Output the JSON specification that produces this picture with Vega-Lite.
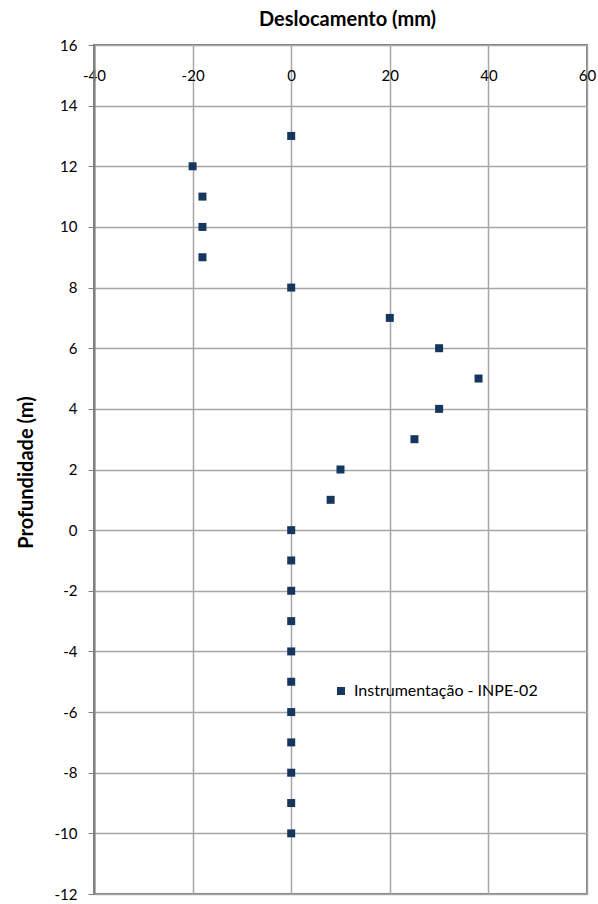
{
  "$schema": "https://vega.github.io/schema/vega-lite/v6.json",
  "width": 493,
  "height": 849,
  "autosize": "none",
  "padding": {"left": 94, "top": 45, "right": 11, "bottom": 10},
  "background": "white",
  "config": {
    "font": "Lato",
    "view": {"stroke": "#7f7f7f", "strokeWidth": 2}
  },
  "data": {
    "values": [
      {"deslocamento": 0, "profundidade": 13, "serie": "Instrumentação - INPE-02"},
      {"deslocamento": -20, "profundidade": 12, "serie": "Instrumentação - INPE-02"},
      {"deslocamento": -18, "profundidade": 11, "serie": "Instrumentação - INPE-02"},
      {"deslocamento": -18, "profundidade": 10, "serie": "Instrumentação - INPE-02"},
      {"deslocamento": -18, "profundidade": 9, "serie": "Instrumentação - INPE-02"},
      {"deslocamento": 0, "profundidade": 8, "serie": "Instrumentação - INPE-02"},
      {"deslocamento": 20, "profundidade": 7, "serie": "Instrumentação - INPE-02"},
      {"deslocamento": 30, "profundidade": 6, "serie": "Instrumentação - INPE-02"},
      {"deslocamento": 38, "profundidade": 5, "serie": "Instrumentação - INPE-02"},
      {"deslocamento": 30, "profundidade": 4, "serie": "Instrumentação - INPE-02"},
      {"deslocamento": 25, "profundidade": 3, "serie": "Instrumentação - INPE-02"},
      {"deslocamento": 10, "profundidade": 2, "serie": "Instrumentação - INPE-02"},
      {"deslocamento": 8, "profundidade": 1, "serie": "Instrumentação - INPE-02"},
      {"deslocamento": 0, "profundidade": 0, "serie": "Instrumentação - INPE-02"},
      {"deslocamento": 0, "profundidade": -1, "serie": "Instrumentação - INPE-02"},
      {"deslocamento": 0, "profundidade": -2, "serie": "Instrumentação - INPE-02"},
      {"deslocamento": 0, "profundidade": -3, "serie": "Instrumentação - INPE-02"},
      {"deslocamento": 0, "profundidade": -4, "serie": "Instrumentação - INPE-02"},
      {"deslocamento": 0, "profundidade": -5, "serie": "Instrumentação - INPE-02"},
      {"deslocamento": 0, "profundidade": -6, "serie": "Instrumentação - INPE-02"},
      {"deslocamento": 0, "profundidade": -7, "serie": "Instrumentação - INPE-02"},
      {"deslocamento": 0, "profundidade": -8, "serie": "Instrumentação - INPE-02"},
      {"deslocamento": 0, "profundidade": -9, "serie": "Instrumentação - INPE-02"},
      {"deslocamento": 0, "profundidade": -10, "serie": "Instrumentação - INPE-02"}
    ]
  },
  "mark": {"type": "point", "shape": "square", "filled": true, "size": 64, "opacity": 1},
  "encoding": {
    "x": {
      "field": "deslocamento",
      "type": "quantitative",
      "scale": {"domain": [-40, 60], "nice": false, "zero": false},
      "axis": {
        "orient": "top",
        "title": "Deslocamento (mm)",
        "titleFontSize": 20,
        "titleFontWeight": "bold",
        "titleColor": "black",
        "titleX": 253,
        "titleY": -26,
        "titleBaseline": "middle",
        "values": [-40, -20, 0, 20, 40, 60],
        "labelExpr": "datum.value + ''",
        "ticks": false,
        "domain": false,
        "labelPadding": -30,
        "labelBaseline": "middle",
        "labelFontSize": 15,
        "labelColor": "black",
        "labelFlush": false,
        "labelBound": false,
        "labelOverlap": false,
        "grid": true,
        "gridColor": "#a6a6a6",
        "gridOpacity": 1,
        "gridWidth": 1.5
      }
    },
    "y": {
      "field": "profundidade",
      "type": "quantitative",
      "scale": {"domain": [-12, 16], "nice": false, "zero": false},
      "axis": {
        "title": "Profundidade (m)",
        "titleFontSize": 20,
        "titleFontWeight": "bold",
        "titleColor": "black",
        "titleX": -68,
        "titleY": 427,
        "titleBaseline": "middle",
        "values": [-12, -10, -8, -6, -4, -2, 0, 2, 4, 6, 8, 10, 12, 14, 16],
        "labelExpr": "datum.value + ''",
        "labelFontSize": 15,
        "labelColor": "black",
        "labelPadding": 11,
        "labelFlush": false,
        "labelOverlap": false,
        "tickColor": "#7f7f7f",
        "tickSize": 6,
        "domainColor": "#7f7f7f",
        "domainWidth": 2,
        "grid": true,
        "gridColor": "#a6a6a6",
        "gridOpacity": 1,
        "gridWidth": 1.5
      }
    },
    "color": {
      "field": "serie",
      "type": "nominal",
      "scale": {"range": ["#17365d"]},
      "legend": {
        "title": null,
        "orient": "none",
        "legendX": 239,
        "legendY": 638,
        "symbolType": "square",
        "symbolSize": 64,
        "symbolOpacity": 1,
        "labelFontSize": 16,
        "labelLimit": 400,
        "labelColor": "black",
        "labelOffset": 5
      }
    }
  }
}
